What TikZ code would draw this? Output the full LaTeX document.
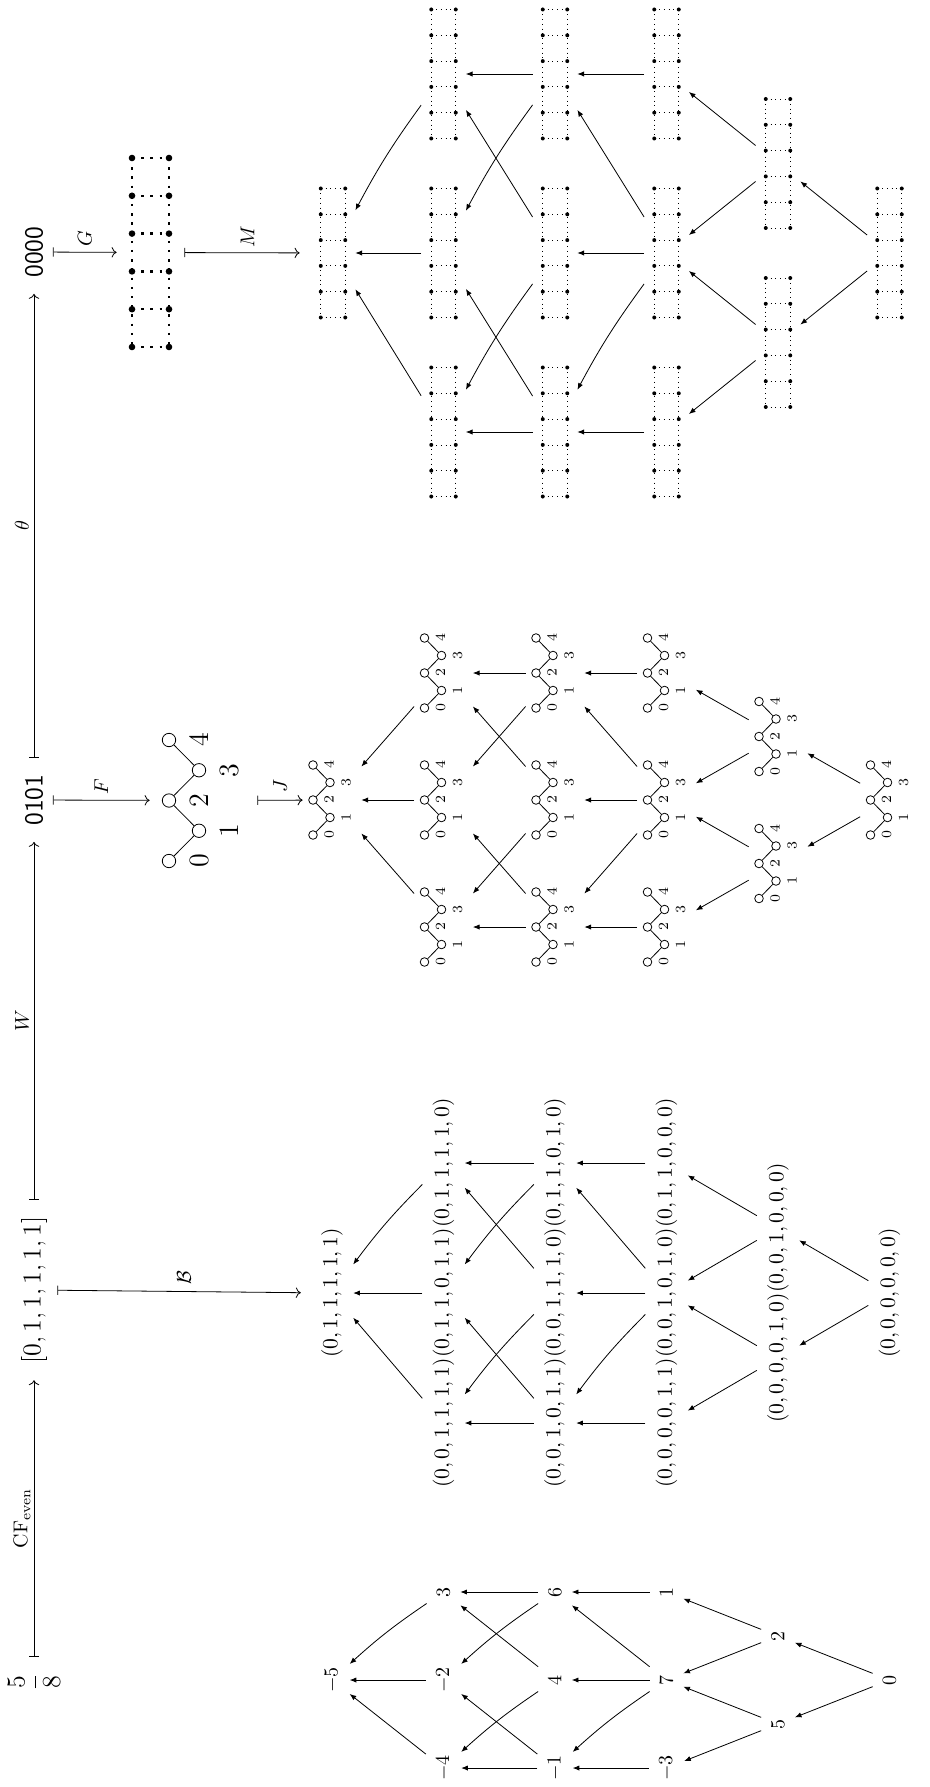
\RequirePackage{fix-cm}
\documentclass[tikz,border=0pt]{standalone}
\usepackage{amsmath}
\usetikzlibrary{arrows.meta}

\tikzset{
  chainn/.style={rotate=90, font=\fontsize{13}{15}\selectfont, inner sep=5pt},
  pn/.style={rotate=90, inner sep=5pt},
  tn/.style={rotate=90, inner sep=5pt, font=\fontsize{10.8}{13}\selectfont},
  lab/.style={rotate=90, inner sep=1pt, font=\fontsize{10}{12}\selectfont},
  vmap/.style={|->, shorten <=3pt, shorten >=3pt},
  hmap/.style={|->},
  parr/.style={-{Latex[length=3.3pt,width=2.6pt]}},
  dinv/.style={inner sep=0pt, minimum width=29pt, minimum height=45pt},
  ginv/.style={inner sep=0pt, minimum width=22pt, minimum height=75pt},
  dcirc/.style={circle, draw, fill=white, inner sep=0pt, minimum size=4.3pt},
  dlab/.style={rotate=90, inner sep=0pt, font=\fontsize{7}{8}\selectfont},
  fcirc/.style={circle, draw, fill=white, inner sep=0pt, minimum size=6.7pt},
  flab/.style={rotate=90, inner sep=0pt, font=\fontsize{14}{16}\selectfont},
  smalldot/.style={dotted},
  bigdot/.style={line width=1.2pt, dash pattern=on 1.2pt off 3.4pt},
}

\newcommand{\minidyck}[3]{%
  \node[dinv] (#1) at (#2,#3) {};
  \foreach \i/\qa/\qb in {0/-19/35,1/-2/17.5,2/-19/0,3/-2/-17.5,4/-19/-35}{%
    \pgfmathsetmacro\qx{#2+(\qa)}%
    \pgfmathsetmacro\qy{#3+(\qb)}%
    \pgfmathsetmacro\ql{#2+(\qa)+16}%
    \node[dcirc] (#1c\i) at (\qx,\qy) {};
    \node[dlab] (#1l\i) at (\ql,\qy) {$\i$};
  }
  \draw (#1c0) -- (#1c1) -- (#1c2) -- (#1c3) -- (#1c4);
}

\newcommand{\gridcopy}[3]{%
  \node[ginv] (#1) at (#2,#3) {};
  \pgfmathsetmacro\gxl{#2-12.25}%
  \pgfmathsetmacro\gxr{#2+12.25}%
  \pgfmathsetmacro\gyt{#3-64.5}%
  \pgfmathsetmacro\gyb{#3+64.5}%
  \draw[smalldot] (\gxl,\gyt) -- (\gxl,\gyb);
  \draw[smalldot] (\gxr,\gyt) -- (\gxr,\gyb);
  \foreach \j in {0,...,5}{%
    \pgfmathsetmacro\gy{#3-64.5+25.8*\j}%
    \draw[smalldot] (\gxl,\gy) -- (\gxr,\gy);
    \fill (\gxl,\gy) circle[radius=1pt];
    \fill (\gxr,\gy) circle[radius=1pt];
  }
}

\newcommand{\posetedges}[2]{%
  \foreach \s/\t in {r1m/r0,r1b/r0,r2t/r1t,r2m/r1t,r2b/r1m,r2b/r1b,r3t/r2t,r3m/r2t,r3m/r2m,r3b/r2b,r4t/r3t,r4t/r3m,r4b/r3m,r4b/r3b,r5/r4t,r5/r4b}
    {\draw[parr] (#1\s) -- (#1\t);}
  \foreach \s/\t in {r1t/r0,r2t/r1m,r2m/r1b,r3m/r2b}
    {\draw[parr] (#1\s) to[#2] (#1\t);}
}

\begin{document}
\begin{tikzpicture}[x=0.5pt,y=-0.5pt]
\useasboundingbox (0,0) rectangle (930,1787);

% ---------- top chain ----------
\node[chainn] (c58) at (34,1682) {$\displaystyle\frac{5}{8}$};
\node[chainn] (clist) at (34,1290) {$[0,1,1,1,1,1]$};
\node[chainn] (c0101) at (34,800) {$\mathsf{0101}$};
\node[chainn] (c0000) at (34,252) {$\mathsf{0000}$};

\draw[vmap] (c58) -- (clist) node[midway, xshift=-6pt, lab] {$\mathrm{CF}_{\mathrm{even}}$};
\draw[vmap] (clist) -- (c0101) node[midway, xshift=-6pt, lab] {$W$};
\draw[vmap] (c0101) -- (c0000) node[midway, xshift=-6pt, lab] {$\theta$};

% ---------- big grid (G) ----------
\node[inner sep=0pt, minimum width=33.5pt, minimum height=100pt] (Gbig) at (150.5,252.5) {};
\draw[bigdot] (132,158) -- (132,347);
\draw[bigdot] (169,158) -- (169,347);
\foreach \j in {0,...,5}{%
  \pgfmathsetmacro\yy{158+37.8*\j}%
  \draw[bigdot] (132,\yy) -- (169,\yy);
  \fill (132,\yy) circle[radius=1.65pt];
  \fill (169,\yy) circle[radius=1.65pt];
}

% ---------- big Dyck path (F) ----------
\node[inner sep=0pt, minimum width=53.5pt, minimum height=70pt] (Fpic) at (203.5,800.5) {};
\node[fcirc] (f0) at (169,861) {};
\node[fcirc] (f1) at (199,830.75) {};
\node[fcirc] (f2) at (169,800.5) {};
\node[fcirc] (f3) at (199,770.25) {};
\node[fcirc] (f4) at (169,740) {};
\draw (f0) -- (f1) -- (f2) -- (f3) -- (f4);
\node[flab] (fl0) at (199,861) {$0$};
\node[flab] (fl1) at (229,830.75) {$1$};
\node[flab] (fl2) at (199,800.5) {$2$};
\node[flab] (fl3) at (229,770.25) {$3$};
\node[flab] (fl4) at (199,740) {$4$};

% ---------- grid poset ----------
\gridcopy{gr0}{333}{253}
\gridcopy{gr1t}{443.5}{74}
\gridcopy{gr1m}{443.5}{253}
\gridcopy{gr1b}{443.5}{432}
\gridcopy{gr2t}{555}{74}
\gridcopy{gr2m}{555}{253}
\gridcopy{gr2b}{555}{432}
\gridcopy{gr3t}{666.5}{74}
\gridcopy{gr3m}{666.5}{253}
\gridcopy{gr3b}{666.5}{432}
\gridcopy{gr4t}{778}{163.5}
\gridcopy{gr4b}{778}{342.5}
\gridcopy{gr5}{889.5}{253}
\posetedges{g}{bend right=4}

% ---------- Dyck poset ----------
\minidyck{dr0}{332}{800}
\minidyck{dr1t}{443.5}{673}
\minidyck{dr1m}{443.5}{800}
\minidyck{dr1b}{443.5}{927}
\minidyck{dr2t}{555}{673}
\minidyck{dr2m}{555}{800}
\minidyck{dr2b}{555}{927}
\minidyck{dr3t}{666.5}{673}
\minidyck{dr3m}{666.5}{800}
\minidyck{dr3b}{666.5}{927}
\minidyck{dr4t}{778}{736.5}
\minidyck{dr4b}{778}{863.5}
\minidyck{dr5}{889.5}{800}
\posetedges{d}{bend left=0}

% ---------- tuple poset ----------
\node[tn] (tr0) at (332,1293) {$(0,1,1,1,1,1)$};
\node[tn] (tr1t) at (443.5,1163) {$(0,1,1,1,1,0)$};
\node[tn] (tr1m) at (443.5,1293) {$(0,1,1,0,1,1)$};
\node[tn] (tr1b) at (443.5,1423) {$(0,0,1,1,1,1)$};
\node[tn] (tr2t) at (555,1163) {$(0,1,1,0,1,0)$};
\node[tn] (tr2m) at (555,1293) {$(0,0,1,1,1,0)$};
\node[tn] (tr2b) at (555,1423) {$(0,0,1,0,1,1)$};
\node[tn] (tr3t) at (666.5,1163) {$(0,1,1,0,0,0)$};
\node[tn] (tr3m) at (666.5,1293) {$(0,0,1,0,1,0)$};
\node[tn] (tr3b) at (666.5,1423) {$(0,0,0,0,1,1)$};
\node[tn] (tr4t) at (778,1228) {$(0,0,1,0,0,0)$};
\node[tn] (tr4b) at (778,1358) {$(0,0,0,0,1,0)$};
\node[tn] (tr5) at (889.5,1293) {$(0,0,0,0,0,0)$};
\posetedges{t}{bend right=4}

% ---------- number poset ----------
\node[pn] (nr0) at (332,1680) {$-5$};
\node[pn] (nr1t) at (443.5,1592) {$3$};
\node[pn] (nr1m) at (443.5,1680) {$-2$};
\node[pn] (nr1b) at (443.5,1768) {$-4$};
\node[pn] (nr2t) at (555,1592) {$6$};
\node[pn] (nr2m) at (555,1680) {$4$};
\node[pn] (nr2b) at (555,1768) {$-1$};
\node[pn] (nr3t) at (666.5,1592) {$1$};
\node[pn] (nr3m) at (666.5,1680) {$7$};
\node[pn] (nr3b) at (666.5,1768) {$-3$};
\node[pn] (nr4t) at (778,1636) {$2$};
\node[pn] (nr4b) at (778,1724) {$5$};
\node[pn] (nr5) at (889.5,1680) {$0$};
\posetedges{n}{bend right=4}

% ---------- vertical maps ----------
\draw[hmap] (c0000) -- (Gbig) node[midway, yshift=7pt, lab] {$G$};
\draw[hmap, shorten >=5.5pt] (Gbig) -- (gr0) node[midway, yshift=8pt, lab] {$M$};
\draw[hmap] (c0101) -- (Fpic) node[midway, yshift=7pt, lab] {$F$};
\draw[hmap] (Fpic) -- (dr0) node[midway, yshift=7pt, lab] {$J$};
\draw[hmap, shorten >=5pt] (clist) -- (tr0) node[midway, yshift=7pt, lab] {$\mathcal{B}$};
\end{tikzpicture}
\end{document}
